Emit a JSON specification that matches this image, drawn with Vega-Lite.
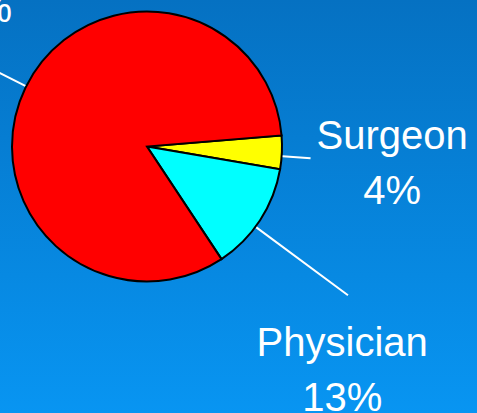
{
  "$schema": "https://vega.github.io/schema/vega-lite/v6.json",
  "width": 477,
  "height": 413,
  "autosize": {"type": "none"},
  "padding": 0,
  "background": "#0783DA",
  "config": {
    "view": {"stroke": null},
    "text": {"font": "Liberation Sans", "fontSize": 40, "color": "white", "align": "center", "baseline": "alphabetic"}
  },
  "data": {"values": [
    {"category": "Surgeon", "share": 0.04},
    {"category": "Physician", "share": 0.13},
    {"category": "Other", "share": 0.83}
  ]},
  "transform": [
    {"stack": "share", "groupby": [], "sort": [{"field": "share", "order": "ascending"}], "as": ["s0", "s1"]}
  ],
  "layer": [
    {
      "data": {"values": [{"bg": 1}]},
      "transform": [],
      "mark": {"type": "rect", "color": {"gradient": "linear", "x1": 0, "y1": 0, "x2": 0, "y2": 1,
        "stops": [{"offset": 0, "color": "#0571C2"}, {"offset": 1, "color": "#0895F2"}]}},
      "encoding": {"x": {"value": 0}, "x2": {"value": "width"}, "y": {"value": 0}, "y2": {"value": "height"}}
    },
    {
      "mark": {"type": "arc", "outerRadius": 135, "stroke": "black", "strokeWidth": 2, "xOffset": -91.5, "yOffset": -60},
      "encoding": {
        "theta": {"field": "s0", "type": "quantitative", "scale": {"domain": [0, 1], "range": [1.489, 7.772]}},
        "theta2": {"field": "s1"},
        "color": {"field": "category", "type": "nominal", "legend": null,
          "scale": {"domain": ["Surgeon", "Physician", "Other"], "range": ["#FFFF00", "#00FFFF", "#FF0000"]}}
      }
    },
    {
      "transform": [{"filter": "datum.category === 'Surgeon'"}],
      "mark": {"type": "arc", "filled": false, "color": "white", "strokeWidth": 2, "radius": 164, "radius2": 136, "xOffset": -91.5, "yOffset": -60},
      "encoding": {"theta": {"datum": 0.0245}, "theta2": {"datum": 0.0245}}
    },
    {
      "transform": [{"filter": "datum.category === 'Physician'"}],
      "mark": {"type": "arc", "filled": false, "color": "white", "strokeWidth": 2, "radius": 250, "radius2": 136, "xOffset": -91.5, "yOffset": -60},
      "encoding": {"theta": {"datum": 0.1144}, "theta2": {"datum": 0.1144}}
    },
    {
      "transform": [{"filter": "datum.category === 'Other'"}],
      "mark": {"type": "arc", "filled": false, "color": "white", "strokeWidth": 2, "radius": 200, "radius2": 136, "xOffset": -91.5, "yOffset": -60},
      "encoding": {"theta": {"datum": 0.5867}, "theta2": {"datum": 0.5867}}
    },
    {
      "transform": [{"filter": "datum.category === 'Surgeon'"}],
      "mark": {"type": "text", "radius": 245, "xOffset": -91.5, "yOffset": -60, "dx": 1, "dy": 23},
      "encoding": {"theta": {"field": "s0", "type": "quantitative"}, "text": {"field": "category", "type": "nominal"}}
    },
    {
      "transform": [{"filter": "datum.category === 'Surgeon'"}],
      "mark": {"type": "text", "radius": 245, "xOffset": -91.5, "yOffset": -60, "dx": 1, "dy": 78},
      "encoding": {"theta": {"field": "s0", "type": "quantitative"}, "text": {"field": "share", "type": "quantitative", "format": ".0%"}}
    },
    {
      "transform": [{"filter": "datum.category === 'Physician'"}],
      "mark": {"type": "text", "radius": 245, "xOffset": -91.5, "yOffset": -60, "dx": 60, "dy": 5},
      "encoding": {"theta": {"field": "s1", "type": "quantitative"}, "text": {"field": "category", "type": "nominal"}}
    },
    {
      "transform": [{"filter": "datum.category === 'Physician'"}],
      "mark": {"type": "text", "radius": 245, "xOffset": -91.5, "yOffset": -60, "dx": 60, "dy": 60},
      "encoding": {"theta": {"field": "s1", "type": "quantitative"}, "text": {"field": "share", "type": "quantitative", "format": ".0%"}}
    },
    {
      "transform": [{"filter": "datum.category === 'Other'"}],
      "mark": {"type": "text", "radius": 135, "xOffset": -91.5, "yOffset": -60, "dx": -249.5, "dy": -292},
      "encoding": {"theta": {"field": "s0", "type": "quantitative"}, "text": {"field": "category", "type": "nominal"}}
    },
    {
      "transform": [{"filter": "datum.category === 'Other'"}],
      "mark": {"type": "text", "radius": 135, "xOffset": -91.5, "yOffset": -60, "dx": -249.5, "dy": -237},
      "encoding": {"theta": {"field": "s0", "type": "quantitative"}, "text": {"field": "share", "type": "quantitative", "format": ".0%"}}
    }
  ]
}
